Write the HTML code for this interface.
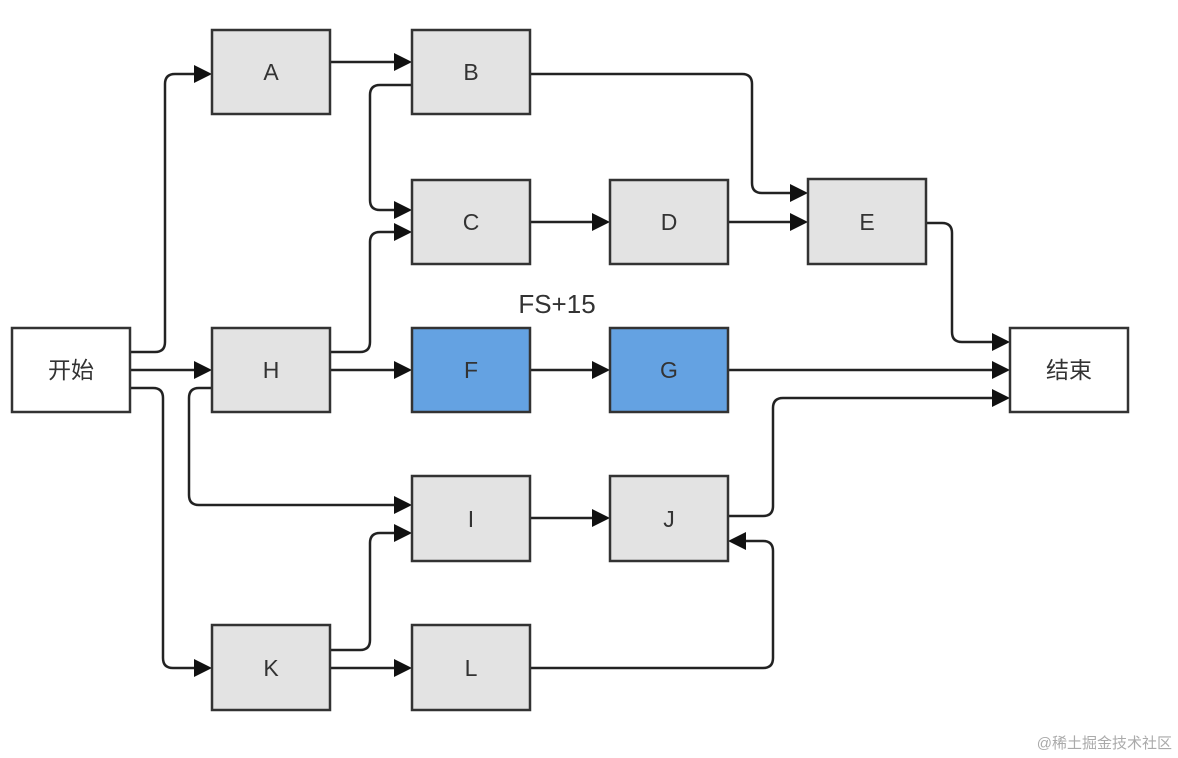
<!DOCTYPE html>
<html><head><meta charset="utf-8"><style>
html,body{margin:0;padding:0;background:#fff;}
svg{display:block;}
text{font-family:"Liberation Sans","Noto Sans CJK SC",sans-serif;fill:#333;}
</style></head><body>
<svg width="1178" height="758" viewBox="0 0 1178 758" xmlns="http://www.w3.org/2000/svg">
<defs>
<marker id="ar" markerWidth="10" markerHeight="10" refX="9" refY="5" orient="auto" markerUnits="userSpaceOnUse" viewBox="0 0 10 10">
</marker>
</defs>
<g fill="none" stroke="#222" stroke-width="2.5" stroke-linejoin="round">
<!-- 开始 -> A -->
<path d="M130 352 H155 Q165 352 165 342 V84 Q165 74 175 74 H196"/>
<!-- 开始 -> H -->
<path d="M130 370 H196"/>
<!-- 开始 -> K -->
<path d="M130 388 H153 Q163 388 163 398 V658 Q163 668 173 668 H196"/>
<!-- A -> B -->
<path d="M330 62 H396"/>
<!-- B -> C -->
<path d="M412 85 H380 Q370 85 370 95 V200 Q370 210 380 210 H396"/>
<!-- H -> C -->
<path d="M330 352 H360 Q370 352 370 342 V242 Q370 232 380 232 H396"/>
<!-- H -> F -->
<path d="M330 370 H396"/>
<!-- H -> I -->
<path d="M212 388 H199 Q189 388 189 398 V495 Q189 505 199 505 H396"/>
<!-- K -> I -->
<path d="M330 650 H360 Q370 650 370 640 V543 Q370 533 380 533 H396"/>
<!-- K -> L -->
<path d="M330 668 H396"/>
<!-- C -> D -->
<path d="M530 222 H594"/>
<!-- D -> E -->
<path d="M728 222 H792"/>
<!-- F -> G -->
<path d="M530 370 H594"/>
<!-- I -> J -->
<path d="M530 518 H594"/>
<!-- B -> E -->
<path d="M530 74 H742 Q752 74 752 84 V183 Q752 193 762 193 H792"/>
<!-- E -> end -->
<path d="M926 223 H942 Q952 223 952 233 V332 Q952 342 962 342 H994"/>
<!-- G -> end -->
<path d="M728 370 H994"/>
<!-- J -> end -->
<path d="M728 516 H763 Q773 516 773 506 V408 Q773 398 783 398 H994"/>
<!-- L -> J -->
<path d="M530 668 H763 Q773 668 773 658 V551 Q773 541 763 541 H744"/>
</g>
<g fill="#111">
<path d="M212 74 l-18 -9 v18z"/>
<path d="M212 370 l-18 -9 v18z"/>
<path d="M212 668 l-18 -9 v18z"/>
<path d="M412 62 l-18 -9 v18z"/>
<path d="M412 210 l-18 -9 v18z"/>
<path d="M412 232 l-18 -9 v18z"/>
<path d="M412 370 l-18 -9 v18z"/>
<path d="M412 505 l-18 -9 v18z"/>
<path d="M412 533 l-18 -9 v18z"/>
<path d="M412 668 l-18 -9 v18z"/>
<path d="M610 222 l-18 -9 v18z"/>
<path d="M610 370 l-18 -9 v18z"/>
<path d="M610 518 l-18 -9 v18z"/>
<path d="M808 193 l-18 -9 v18z"/>
<path d="M808 222 l-18 -9 v18z"/>
<path d="M1010 342 l-18 -9 v18z"/>
<path d="M1010 370 l-18 -9 v18z"/>
<path d="M1010 398 l-18 -9 v18z"/>
<path d="M728 541 l18 -9 v18z"/>
</g>
<g stroke="#333" stroke-width="2.5">
<rect x="212" y="30" width="118" height="84" fill="#e3e3e3"/>
<rect x="412" y="30" width="118" height="84" fill="#e3e3e3"/>
<rect x="412" y="180" width="118" height="84" fill="#e3e3e3"/>
<rect x="610" y="180" width="118" height="84" fill="#e3e3e3"/>
<rect x="808" y="179" width="118" height="85" fill="#e3e3e3"/>
<rect x="12" y="328" width="118" height="84" fill="#fff"/>
<rect x="212" y="328" width="118" height="84" fill="#e3e3e3"/>
<rect x="412" y="328" width="118" height="84" fill="#64a2e2"/>
<rect x="610" y="328" width="118" height="84" fill="#64a2e2"/>
<rect x="1010" y="328" width="118" height="84" fill="#fff"/>
<rect x="412" y="476" width="118" height="85" fill="#e3e3e3"/>
<rect x="610" y="476" width="118" height="85" fill="#e3e3e3"/>
<rect x="212" y="625" width="118" height="85" fill="#e3e3e3"/>
<rect x="412" y="625" width="118" height="85" fill="#e3e3e3"/>
</g>
<g font-size="23" text-anchor="middle">
<text x="271" y="80">A</text>
<text x="471" y="80">B</text>
<text x="471" y="230">C</text>
<text x="669" y="230">D</text>
<text x="867" y="230">E</text>
<text x="71" y="378">开始</text>
<text x="271" y="378">H</text>
<text x="471" y="378">F</text>
<text x="669" y="378">G</text>
<text x="1069" y="378">结束</text>
<text x="471" y="527">I</text>
<text x="669" y="527">J</text>
<text x="271" y="676">K</text>
<text x="471" y="676">L</text>
<text x="557" y="313" font-size="26">FS+15</text>
</g>
<text x="1172" y="748" font-size="15" text-anchor="end" style="fill:#aaa">@稀土掘金技术社区</text>
</svg>
</body></html>
